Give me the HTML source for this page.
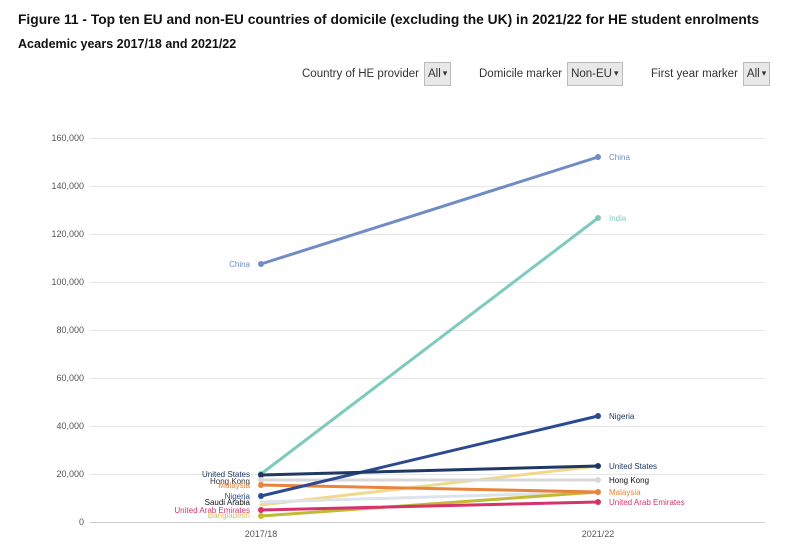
<!DOCTYPE html>
<html><head><meta charset="utf-8"><style>
body{margin:0;width:800px;height:556px;background:#fff;font-family:"Liberation Sans",Arial,sans-serif;overflow:hidden;position:relative}
.t{position:absolute;left:18px;top:12px;font-weight:bold;font-size:13.8px;color:#111;white-space:nowrap}
.s{position:absolute;left:18px;top:37px;font-weight:bold;font-size:12.5px;color:#111}
.c{position:absolute;top:62px;font-size:11.5px;color:#333;white-space:nowrap}
.b{display:inline-block;border:1px solid #bbb;background:#e8e8e8;padding:5px 3px;margin-left:5px;font-size:11.5px}
.b:after{content:"▾";font-size:9px;vertical-align:top;margin-left:2px}
</style></head><body>
<div class="t">Figure 11 - Top ten EU and non-EU countries of domicile (excluding the UK) in 2021/22 for HE student enrolments</div>
<div class="s">Academic years 2017/18 and 2021/22</div>
<div class="c" style="left:302px">Country of HE provider<span class="b">All</span></div>
<div class="c" style="left:479px">Domicile marker<span class="b">Non-EU</span></div>
<div class="c" style="left:651px">First year marker<span class="b">All</span></div>
<svg width="800" height="556" style="position:absolute;left:0;top:0" font-family="Liberation Sans,Arial,sans-serif">
<g stroke="#e6e6e6" stroke-width="1">
<line x1="90" x2="765" y1="138.5" y2="138.5"/><line x1="90" x2="765" y1="186.5" y2="186.5"/><line x1="90" x2="765" y1="234.5" y2="234.5"/><line x1="90" x2="765" y1="282.5" y2="282.5"/><line x1="90" x2="765" y1="330.5" y2="330.5"/><line x1="90" x2="765" y1="378.5" y2="378.5"/><line x1="90" x2="765" y1="426.5" y2="426.5"/><line x1="90" x2="765" y1="474.5" y2="474.5"/>
</g>
<line x1="90" x2="765" y1="522.5" y2="522.5" stroke="#ccc"/>
<g font-size="9" fill="#555" text-anchor="end">
<text x="84" y="141">160,000</text><text x="84" y="189">140,000</text><text x="84" y="237">120,000</text><text x="84" y="285">100,000</text><text x="84" y="333">80,000</text><text x="84" y="381">60,000</text><text x="84" y="429">40,000</text><text x="84" y="477">20,000</text><text x="84" y="525">0</text>
</g>
<g font-size="9" fill="#555" text-anchor="middle"><text x="261" y="537">2017/18</text><text x="598" y="537">2021/22</text></g>
<g stroke-width="3" stroke-linecap="round">
<line x1="261" y1="505" x2="598" y2="466" stroke="#f0d98a"/>
<line x1="261" y1="502" x2="598" y2="492" stroke="#dde3ea"/>
<line x1="261" y1="480" x2="598" y2="480" stroke="#d8d8d8"/>
<line x1="261" y1="516" x2="598" y2="492" stroke="#c2b934"/>
<line x1="261" y1="485" x2="598" y2="492" stroke="#e8843c"/>
<line x1="261" y1="510" x2="598" y2="502" stroke="#d6336c"/>
<line x1="261" y1="496" x2="598" y2="416" stroke="#2b4a8f"/>
<line x1="261" y1="475" x2="598" y2="466" stroke="#1f3864"/>
<line x1="261" y1="474" x2="598" y2="218" stroke="#7ecbbd"/>
<line x1="261" y1="264" x2="598" y2="157" stroke="#6f8cc4"/>
</g>
<g>
<circle cx="261" cy="264" r="3" fill="#6f8cc4"/><circle cx="598" cy="157" r="3" fill="#6f8cc4"/>
<circle cx="598" cy="218" r="3" fill="#7ecbbd"/><circle cx="261" cy="474" r="3" fill="#7ecbbd"/>
<circle cx="261" cy="496" r="3" fill="#2b4a8f"/><circle cx="598" cy="416" r="3" fill="#2b4a8f"/>
<circle cx="261" cy="475" r="3" fill="#1f3864"/><circle cx="598" cy="466" r="3" fill="#1f3864"/>
<circle cx="261" cy="480" r="3" fill="#d8d8d8"/><circle cx="598" cy="480" r="3" fill="#d8d8d8"/>
<circle cx="261" cy="485" r="3" fill="#e8843c"/><circle cx="598" cy="492" r="3" fill="#e8843c"/>
<circle cx="261" cy="516" r="3" fill="#c2b934"/><circle cx="261" cy="510" r="3" fill="#d6336c"/><circle cx="598" cy="502" r="3" fill="#d6336c"/>
</g>
<g font-size="8" text-anchor="end">
<text x="250" y="267" fill="#6f8cc4">China</text>
<text x="250" y="477" fill="#1f3864">United States</text>
<text x="250" y="484" fill="#333">Hong Kong</text>
<text x="250" y="488" fill="#e8843c">Malaysia</text>
<text x="250" y="499" fill="#2b4a8f">Nigeria</text>
<text x="250" y="505" fill="#111">Saudi Arabia</text>
<text x="250" y="513" fill="#d6336c">United Arab Emirates</text>
<text x="250" y="518" fill="#d8c060">Bangladesh</text>
</g>
<g font-size="8">
<text x="609" y="160" fill="#6f8cc4">China</text>
<text x="609" y="221" fill="#7ecbbd">India</text>
<text x="609" y="419" fill="#1f3864">Nigeria</text>
<text x="609" y="469" fill="#1f3864">United States</text>
<text x="609" y="483" fill="#111">Hong Kong</text>
<text x="609" y="495" fill="#e8843c">Malaysia</text>
<text x="609" y="505" fill="#d6336c">United Arab Emirates</text>
</g>
</svg>
</body></html>
